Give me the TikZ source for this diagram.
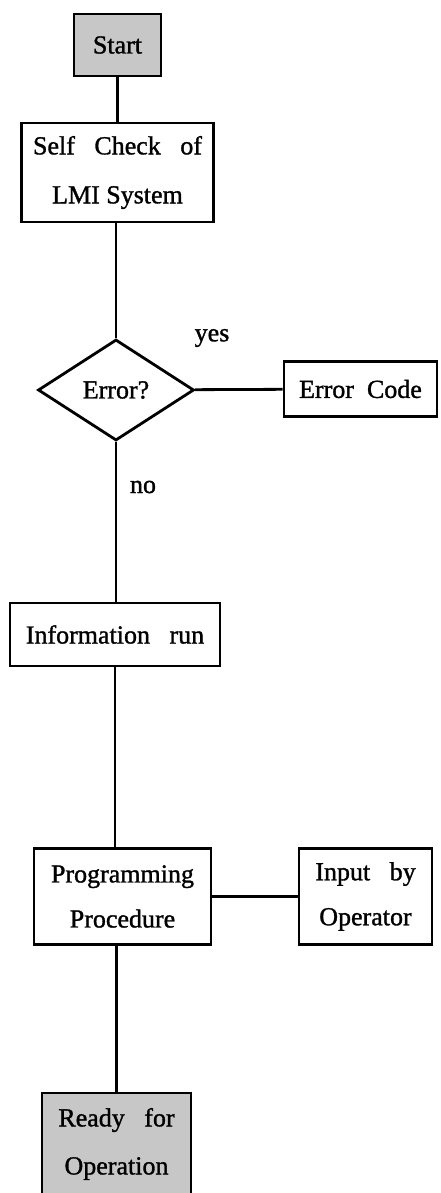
\documentclass[tikz,border=0pt]{standalone}
\usepackage{fontspec}
\setmainfont{Liberation Serif}[AutoFakeBold=1.2]
\usetikzlibrary{shapes.geometric}
\tikzstyle{box}=[draw, line width=2.8pt, align=center, inner sep=0pt, font=\fontsize{26}{31}\selectfont\bfseries]
\tikzstyle{grey}=[fill=black!22]
\tikzstyle{lbl}=[inner sep=0pt, font=\fontsize{26}{31}\selectfont\bfseries]
\tikzstyle{line}=[-, line width=2.8pt]

\begin{document}
\begin{tikzpicture}[x=1pt, y=-1pt]
            \useasboundingbox (0,0) rectangle (440,1193);

            \node[box, grey, minimum width=87, minimum height=62] (start) at (117.5,45) {Start};
            \node[box, minimum width=192, minimum height=99] (check) at (117.5,172.5) {Self~~~Check~~~of\\[18pt]LMI~System};
            \node[box, diamond, minimum width=156, minimum height=101] (err) at (116,390) {Error?};
            \node[box, minimum width=153, minimum height=55] (code) at (360.5,389) {Error~~Code};
            \node[box, minimum width=210, minimum height=63] (info) at (115,634.5) {Information~~~run};
            \node[box, minimum width=177, minimum height=96] (prog) at (122.5,896.5) {Programming\\[14pt]Procedure};
            \node[box, minimum width=133, minimum height=96] (input) at (365.5,896.5) {Input~~~by\\[14pt]Operator};
            \node[box, grey, minimum width=149, minimum height=102] (ready) at (116.5,1144) {Ready~~~for\\[17pt]Operation};

            \node[lbl] (yes) at (212,338) {yes};
            \node[lbl] (no) at (143,487) {no};

            \draw[line] (start) -- (check);
            \draw[line] (check.south -| err.north) -- (err);
            \draw[line] (err) -- (code);
            \draw[line] (err) -- (err |- info.north);
            \draw[line] (info) -- (info |- prog.north);
            \draw[line] (prog) -- (input);
            \draw[line] (prog.south -| ready) -- (ready);
        \end{tikzpicture}
\end{document}
